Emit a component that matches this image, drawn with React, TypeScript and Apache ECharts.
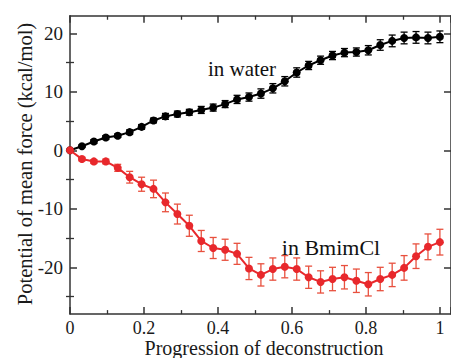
import React, { useEffect, useRef } from "react";
import * as echarts from "echarts";

const N = 32;
const xs: number[] = Array.from({ length: N }, (_, i) => i / 31);

const waterValues: number[] = [
  0, 0.7, 1.5, 2.2, 2.5, 3.1, 4.0, 5.1, 5.8, 6.2, 6.5, 6.9, 7.3, 7.9, 8.7, 9.1,
  9.7, 10.6, 11.8, 13.3, 14.5, 15.4, 16.2, 16.7, 16.8, 17.1, 18.0, 18.7, 19.2,
  19.3, 19.2, 19.4,
];
const waterErr: number[] = [
  0, 0.2, 0.3, 0.3, 0.3, 0.4, 0.4, 0.4, 0.5, 0.5, 0.5, 0.6, 0.6, 0.6, 0.7, 0.7,
  0.8, 0.8, 0.8, 0.8, 0.7, 0.7, 0.7, 0.7, 0.7, 0.8, 0.9, 1.0, 1.0, 1.0, 1.0,
  1.0,
];
const bmimValues: number[] = [
  0, -1.5, -1.9, -1.9, -3.0, -4.6, -5.8, -6.6, -8.9, -10.9, -12.9, -15.5, -16.7,
  -17.0, -17.7, -20.2, -21.3, -20.3, -19.9, -20.3, -21.7, -22.5, -22.0, -21.7,
  -22.3, -22.9, -22.0, -21.3, -20.1, -18.1, -16.5, -15.7,
];
const bmimErr: number[] = [
  0, 0.3, 0.3, 0.4, 0.6, 1.0, 1.2, 1.5, 1.6, 1.7, 1.8, 1.8, 1.8, 1.8, 1.8, 1.9,
  1.9, 1.9, 1.9, 1.9, 1.9, 1.9, 2.0, 2.0, 2.0, 2.0, 2.0, 2.0, 2.1, 2.1, 2.2,
  2.2,
];

const yMajorTicks: number[] = [-20, -10, 0, 10, 20];
const yMinorTicks: number[] = [-25, -15, -5, 5, 15];

const FONT = '"Liberation Serif", "Times New Roman", serif';
const AXIS_COLOR = "#333";
const TEXT_COLOR = "#1a1a1a";
const RED = "#e8282c";
const RED_BAR = "#e8503e";

function errorSeries(values: number[], errs: number[], color: string, z: number) {
  return {
    type: "custom",
    xAxisIndex: 0,
    yAxisIndex: 0,
    z,
    data: values.map((v, i) => [xs[i], v - errs[i], v + errs[i]]),
    renderItem: (params: any, api: any) => {
      const lo = api.coord([api.value(0), api.value(1)]);
      const hi = api.coord([api.value(0), api.value(2)]);
      if (Math.abs(hi[1] - lo[1]) < 1) return { type: "group", children: [] };
      const cap = 3.5;
      const style = { stroke: color, lineWidth: 1.3 };
      return {
        type: "group",
        children: [
          { type: "line", shape: { x1: lo[0], y1: lo[1], x2: hi[0], y2: hi[1] }, style },
          { type: "line", shape: { x1: lo[0] - cap, y1: lo[1], x2: lo[0] + cap, y2: lo[1] }, style },
          { type: "line", shape: { x1: hi[0] - cap, y1: hi[1], x2: hi[0] + cap, y2: hi[1] }, style },
        ],
      };
    },
  };
}

export default function App() {
  const ref = useRef<HTMLDivElement>(null);
  useEffect(() => {
    if (!ref.current) return;
    const chart = echarts.init(ref.current, null, { renderer: "svg" });
    const xBase = {
      type: "value",
      min: 0,
      max: 1.03,
      interval: 0.2,
      gridIndex: 0,
      splitLine: { show: false },
      axisLine: { show: true, onZero: false, lineStyle: { color: AXIS_COLOR, width: 1.5 } },
      axisTick: { show: true, inside: true, length: 7, lineStyle: { color: AXIS_COLOR, width: 1.5 } },
      minorTick: { show: true, splitNumber: 2, length: 4, lineStyle: { color: AXIS_COLOR, width: 1.3 } },
    };
    const yBase = {
      type: "value",
      min: -28,
      max: 23,
      gridIndex: 0,
      splitLine: { show: false },
    };
    const yMajor = (position: string, labels: boolean) => ({
      ...yBase,
      position,
      axisLine: { show: true, onZero: false, lineStyle: { color: AXIS_COLOR, width: 1.5 } },
      axisTick: {
        show: true,
        inside: true,
        length: 7,
        customValues: yMajorTicks,
        lineStyle: { color: AXIS_COLOR, width: 1.5 },
      },
      axisLabel: labels
        ? { show: true, customValues: yMajorTicks, fontFamily: FONT, fontSize: 19, color: TEXT_COLOR, margin: 7 }
        : { show: false },
    });
    const yMinor = (position: string) => ({
      ...yBase,
      position,
      axisLine: { show: false },
      axisTick: {
        show: true,
        inside: true,
        length: 4,
        customValues: yMinorTicks,
        lineStyle: { color: AXIS_COLOR, width: 1.3 },
      },
      axisLabel: { show: false },
    });
    chart.setOption({
      animation: false,
      backgroundColor: "#fff",
      grid: { left: 70, top: 15.75, width: 381, height: 298.35, containLabel: false },
      xAxis: [
        {
          ...xBase,
          position: "bottom",
          axisLabel: { show: true, fontFamily: FONT, fontSize: 18, lineHeight: 18, color: TEXT_COLOR, margin: 5 },
        },
        { ...xBase, position: "top", axisLabel: { show: false } },
      ],
      yAxis: [yMajor("left", true), yMinor("left"), yMajor("right", false), yMinor("right")],
      series: [
        errorSeries(waterValues, waterErr, "#000", 2),
        {
          type: "line",
          xAxisIndex: 0,
          yAxisIndex: 0,
          z: 3,
          data: waterValues.map((v, i) => [xs[i], v]),
          symbol: "circle",
          symbolSize: 8,
          lineStyle: { color: "#000", width: 2 },
          itemStyle: { color: "#000" },
        },
        errorSeries(bmimValues, bmimErr, RED_BAR, 4),
        {
          type: "line",
          xAxisIndex: 0,
          yAxisIndex: 0,
          z: 5,
          data: bmimValues.map((v, i) => [xs[i], v]),
          symbol: "circle",
          symbolSize: 8,
          lineStyle: { color: RED, width: 2 },
          itemStyle: { color: RED },
        },
      ],
      graphic: [
        {
          type: "text",
          x: 25,
          y: 164,
          rotation: Math.PI / 2,
          style: {
            text: "Potential of mean force (kcal/mol)",
            font: `20.5px ${FONT}`,
            fill: TEXT_COLOR,
            textAlign: "center",
            textVerticalAlign: "middle",
          },
        },
        {
          type: "text",
          x: 264,
          y: 348,
          style: {
            text: "Progression of deconstruction",
            font: `20px ${FONT}`,
            lineHeight: 19,
            fill: TEXT_COLOR,
            textAlign: "center",
            textVerticalAlign: "middle",
          },
        },
        {
          type: "text",
          x: 242,
          y: 69,
          style: {
            text: "in water",
            font: `21px ${FONT}`,
            fill: "#111",
            textAlign: "center",
            textVerticalAlign: "middle",
          },
        },
        {
          type: "text",
          x: 331,
          y: 247,
          style: {
            text: "in BmimCl",
            font: `22px ${FONT}`,
            fill: "#111",
            textAlign: "center",
            textVerticalAlign: "middle",
          },
        },
      ],
    });
    return () => chart.dispose();
  }, []);
  return (
    <div
      ref={ref}
      style={{ position: "fixed", left: 0, top: 0, width: 451, height: 358 }}
    />
  );
}
